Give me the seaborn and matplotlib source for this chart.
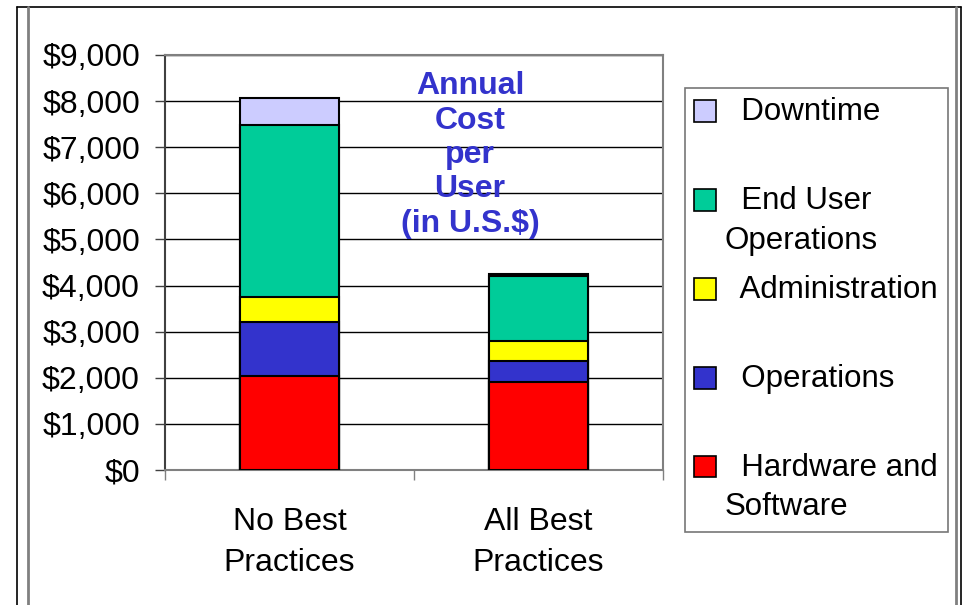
import matplotlib
matplotlib.use("Agg")
import matplotlib.pyplot as plt
import seaborn as sns
import numpy as np
import pandas as pd
from matplotlib.patches import Patch, Rectangle
from matplotlib.lines import Line2D
from matplotlib.legend_handler import HandlerPatch
from matplotlib.ticker import StrMethodFormatter, FixedLocator

# data (US$ per user per year)
categories = ["No Best\nPractices", "All Best\nPractices"]
hardware_software = [2040, 1910]
operations = [1180, 460]
administration = [540, 430]
end_user_ops = [3720, 1410]
downtime = [580, 40]

# stacking order bottom -> top
layer_names = ["Hardware and Software", "Operations", "Administration",
               "End User Operations", "Downtime"]
layer_values = [hardware_software, operations, administration, end_user_ops, downtime]
layer_colors = ["#FF0000", "#3333CC", "#FFFF00", "#00CC99", "#CCCCFF"]
legend_labels = {
    "Downtime": "  Downtime\n ",
    "End User Operations": "  End User\nOperations",
    "Administration": "  Administration\n ",
    "Operations": "  Operations\n ",
    "Hardware and Software": "  Hardware and\nSoftware",
}

sns.set_style("white")
plt.rcParams["font.family"] = ["Liberation Sans", "DejaVu Sans"]
for key in ["text.color", "axes.labelcolor", "xtick.color", "ytick.color"]:
    plt.rcParams[key] = "black"
FS = 23
LEG_FS = 22.5
LEG_LS = 1.412

fig = plt.figure(figsize=(9.67, 6.05), dpi=100)
W, H = 967, 605
ax = fig.add_axes([165 / W, 1 - 470 / H, 498 / W, 415 / H])

# stacked bars: draw cumulative totals from the top layer down
cum = np.cumsum(np.array(layer_values), axis=0)
for i in range(len(layer_names) - 1, -1, -1):
    df = pd.DataFrame({"category": categories, "value": cum[i]})
    sns.barplot(data=df, x="category", y="value", color=layer_colors[i],
                saturation=1, width=0.4, edgecolor="black", linewidth=1.5,
                ax=ax, zorder=3)

ax.set_ylim(0, 9000)
ax.set_xlim(-0.5, 1.5)
ax.set_yticks(np.arange(0, 9001, 1000))
ax.yaxis.set_major_formatter(StrMethodFormatter("${x:,.0f}"))
ax.yaxis.grid(True, color="black", linewidth=1)
ax.set_axisbelow(True)
ax.set_xlabel("")
ax.set_ylabel("")

for side in ["top", "right", "bottom", "left"]:
    ax.spines[side].set_color("#808080")
    ax.spines[side].set_linewidth(1.5)
ax.spines["left"].set_color("#404040")

ax.tick_params(axis="y", which="major", direction="out", length=7, width=1,
               color="#404040", labelsize=FS, pad=11, left=True)
ax.tick_params(axis="x", which="major", length=0, labelsize=FS, pad=27)
ax.xaxis.set_minor_locator(FixedLocator([-0.5, 0.5, 1.5]))
ax.tick_params(axis="x", which="minor", direction="out", length=7, width=1,
               color="#808080", bottom=True)
for lbl in ax.get_xticklabels():
    lbl.set_linespacing(1.454)

ax.text(0.725, 8650, "Annual\nCost\nper\nUser\n(in U.S.$)", ha="center", va="top",
        fontsize=FS, fontweight="bold", color="#3333CC", linespacing=1.19, zorder=4)


# legend: handle sits beside the first line of each two-line label
def top_square(legend, orig_handle, xdescent, ydescent, width, height, fontsize):
    shift = 15.5
    return Rectangle((-xdescent, -ydescent + shift), width, height)


handles = []
labels = []
for i in range(len(layer_names) - 1, -1, -1):
    handles.append(Patch(facecolor=layer_colors[i], edgecolor="black", linewidth=1.2))
    labels.append(legend_labels[layer_names[i]])

leg = fig.legend(handles, labels, loc="upper left",
                 bbox_to_anchor=(685 / W, 1 - 88 / H), bbox_transform=fig.transFigure,
                 borderaxespad=0, fontsize=LEG_FS, frameon=True, fancybox=False,
                 borderpad=0.3, handlelength=0.68, handleheight=0.68,
                 handletextpad=0.28, labelspacing=0.621,
                 handler_map={Patch: HandlerPatch(patch_func=top_square)})
leg.get_frame().set_edgecolor("#555555")
leg.get_frame().set_linewidth(1.2)
for t in leg.get_texts():
    t.set_linespacing(LEG_LS)

# slide frame around the chart
def fline(x0, y0, x1, y1, color, lw):
    fig.add_artist(Line2D([x0 / W, x1 / W], [1 - y0 / H, 1 - y1 / H],
                          transform=fig.transFigure, color=color, linewidth=lw))


fline(17, 7, 961, 7, "black", 1.2)
fline(17, 7, 17, H, "black", 1.2)
fline(961, 7, 961, H, "black", 1.2)
fline(28, 7, 28, H, "#808080", 2)
fline(956, 7, 956, H, "#808080", 2)

fig.savefig("out.png", dpi=100, facecolor="white")
